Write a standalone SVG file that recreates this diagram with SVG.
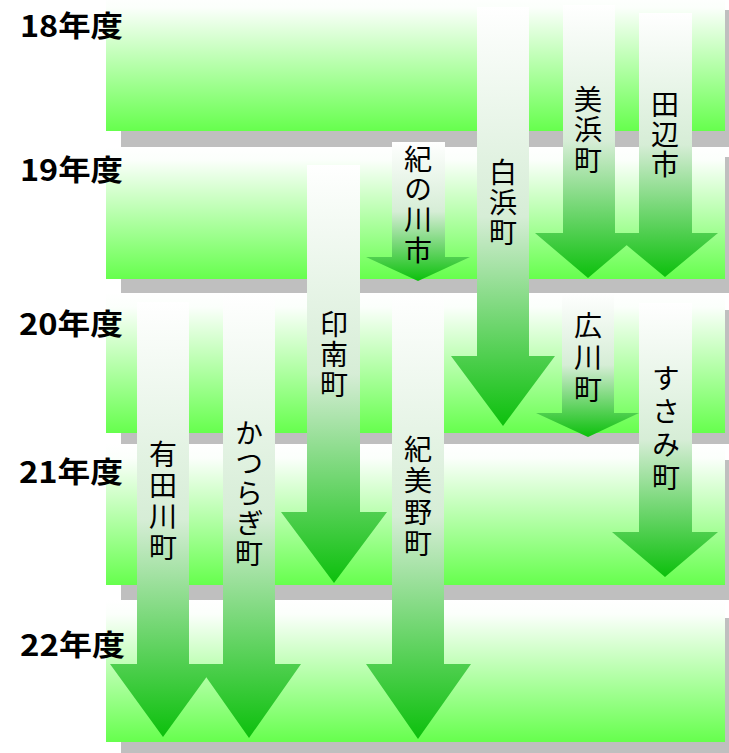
<svg xmlns="http://www.w3.org/2000/svg" width="729" height="753" viewBox="0 0 729 753">
<defs>
<linearGradient id="bandG" x1="0" y1="0" x2="0" y2="1">
<stop offset="0" stop-color="#ffffff"/>
<stop offset="0.1" stop-color="#fbfffb"/>
<stop offset="1" stop-color="#66ff4d"/>
</linearGradient>
<linearGradient id="arrG" x1="0" y1="0" x2="0" y2="1">
<stop offset="0" stop-color="#ffffff"/>
<stop offset="0.5" stop-color="#d6edd6"/>
<stop offset="1" stop-color="#0cc00c"/>
</linearGradient>
<style>
.band{fill:url(#bandG)}
.sh{fill:#bfbfbf}
.arr{fill:url(#arrG)}
.yr{font-family:"Noto Sans CJK JP","Liberation Sans",sans-serif;font-weight:bold;font-size:29px;fill:#000}
.lb{font-family:"Noto Sans CJK JP",sans-serif;font-size:28px;fill:#000;writing-mode:vertical-rl;text-orientation:upright;letter-spacing:2px}
</style>
</defs>
<g id="bands">
<g id="band18"><rect class="sh" x="121" y="10" width="620" height="137"/><rect class="band" x="106" y="-6" width="619" height="137"/></g>
<g id="band19"><rect class="sh" x="121" y="157" width="620" height="136"/><rect class="band" x="106" y="147" width="619" height="132"/></g>
<g id="band20"><rect class="sh" x="121" y="310" width="620" height="134"/><rect class="band" x="106" y="293" width="619" height="140"/></g>
<g id="band21"><rect class="sh" x="121" y="460" width="620" height="140"/><rect class="band" x="106" y="444" width="619" height="141"/></g>
<g id="band22"><rect class="sh" x="121" y="618" width="620" height="135"/><rect class="band" x="106" y="600" width="619" height="142"/></g>
</g>
<g id="years">
<text class="yr" x="20" y="37" textLength="103" lengthAdjust="spacingAndGlyphs">18年度</text>
<text class="yr" x="20" y="181" textLength="103" lengthAdjust="spacingAndGlyphs">19年度</text>
<text class="yr" x="19" y="335" textLength="104" lengthAdjust="spacingAndGlyphs">20年度</text>
<text class="yr" x="19" y="483" textLength="104" lengthAdjust="spacingAndGlyphs">21年度</text>
<text class="yr" x="20" y="656" textLength="105" lengthAdjust="spacingAndGlyphs">22年度</text>
</g>
<g id="connectors">
<g id="a-shirahama"><path class="arr" d="M477,7 H529 V356 H555 L503,426 L451,356 H477 Z"/>
<text class="lb" x="503" y="158">白浜町</text></g>
<g id="a-mihama"><path class="arr" d="M563,5 H615 V233 H641 L588,278 L535,233 H563 Z"/>
<text class="lb" x="588" y="85" style="letter-spacing:2.5px">美浜町</text></g>
<g id="a-tanabe"><path class="arr" d="M639,13 H692 V233 H718 L665,277 L612,233 H639 Z"/>
<text class="lb" x="665" y="90">田辺市</text></g>
<g id="a-kinokawa"><path class="arr" d="M392,142 H445 V257 H470 L418,281 L366,257 H392 Z"/>
<text class="lb" x="418" y="145" style="letter-spacing:2.4px">紀の川市</text></g>
<g id="a-inami"><path class="arr" d="M307,165 H360 V512 H387 L334,583 L281,512 H307 Z"/>
<text class="lb" x="334" y="310">印南町</text></g>
<g id="a-aridagawa"><path class="arr" d="M137,302 H189 V664 H216 L163,737 L110,664 H137 Z"/>
<text class="lb" x="163" y="440" style="letter-spacing:3px">有田川町</text></g>
<g id="a-katsuragi"><path class="arr" d="M223,293 H275 V664 H301 L249,738 L197,664 H223 Z"/>
<text class="lb" x="249" y="419">かつらぎ町</text></g>
<g id="a-kimino"><path class="arr" d="M392,293 H444 V664 H471 L418,739 L366,664 H392 Z"/>
<text class="lb" x="418" y="435" style="letter-spacing:3.5px">紀美野町</text></g>
<g id="a-hirogawa"><path class="arr" d="M562,293 H614 V413 H639 L588,437 L536,413 H562 Z"/>
<text class="lb" x="588" y="311" style="letter-spacing:4px">広川町</text></g>
<g id="a-susami"><path class="arr" d="M639,303 H692 V532 H718 L665,577 L612,532 H639 Z"/>
<text class="lb" x="666" y="364" style="letter-spacing:5px">すさみ町</text></g>
</g>
</svg>
